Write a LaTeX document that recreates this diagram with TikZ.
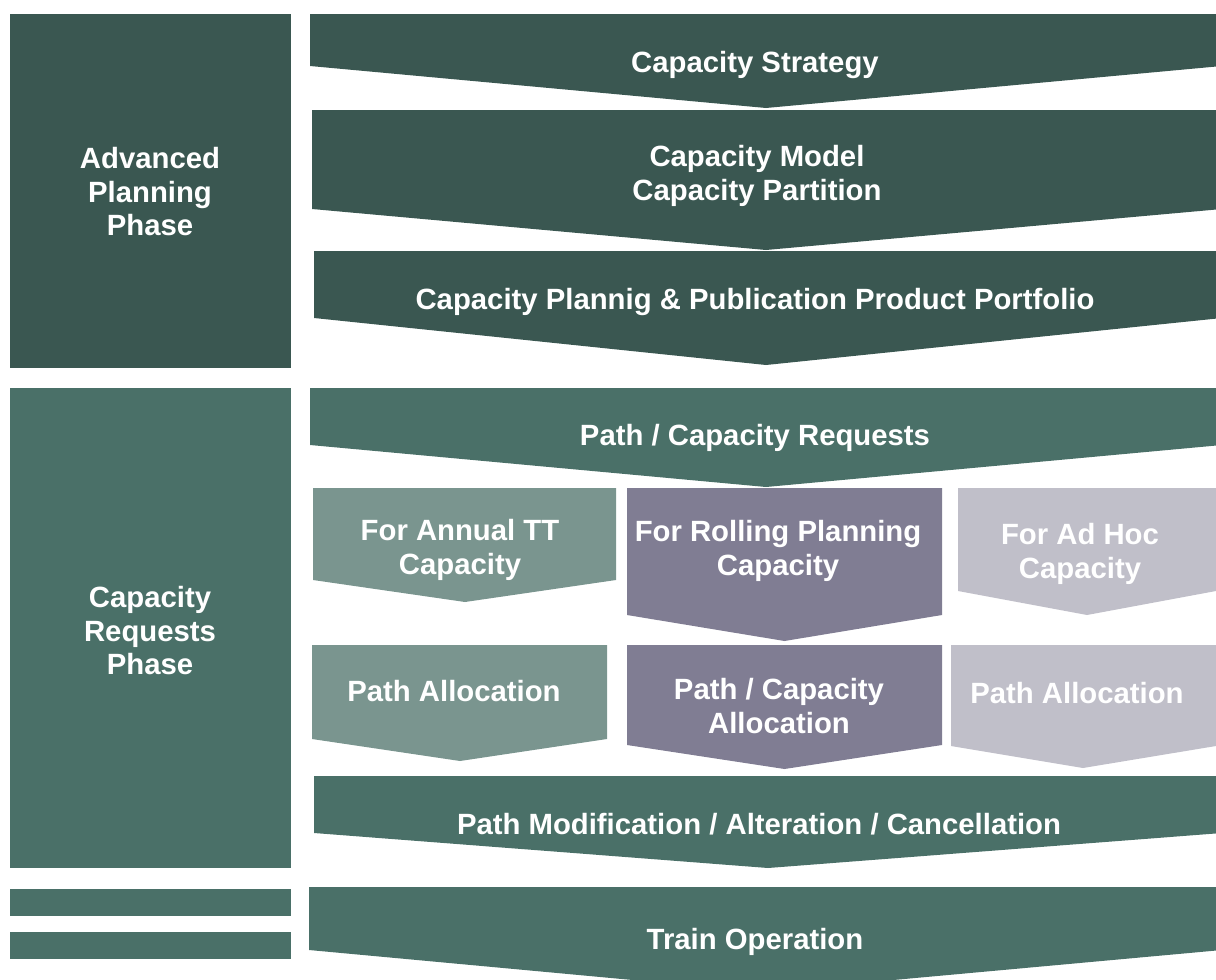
\documentclass[tikz,border=0pt]{standalone}
\usepackage{fontspec}
\setmainfont{Liberation Sans}
\definecolor{darkteal}{HTML}{3A5751}
\definecolor{midteal}{HTML}{4A7068}
\definecolor{paleteal}{HTML}{7A958F}
\definecolor{greypurple}{HTML}{807D93}
\definecolor{lightgrey}{HTML}{C0BFC9}
\tikzset{
  lbl/.style={text=white, align=center, inner sep=0pt, font=\fontsize{29.3}{33.5}\selectfont\bfseries},
}
% chevron: x1, x2, ytop, yside, ytip, xtip, colour
\newcommand\chevfill[7]{\fill[#7] (#1,#3) -- (#2,#3) -- (#2,#4) -- (#6,#5) -- (#1,#4) -- cycle;}
\begin{document}
\begin{tikzpicture}[x=1pt,y=-1pt]
\useasboundingbox (0,0) rectangle (1216,980);
\begin{scope}
\clip (0,0) rectangle (1216,980);
% left phase boxes
\fill[darkteal] (10,14) rectangle (291,368);
\fill[midteal] (10,388) rectangle (291,868);
\fill[midteal] (10,889) rectangle (291,916);
\fill[midteal] (10,932) rectangle (291,959);
% big chevrons
\chevfill{310}{1222}{14}{66}{108}{766}{darkteal}
\chevfill{312}{1222}{110}{209}{250}{766}{darkteal}
\chevfill{314}{1222}{251}{318}{365}{766}{darkteal}
\chevfill{310}{1222}{388}{445}{487}{766}{midteal}
% small chevrons row 1
\chevfill{313}{616}{488}{580}{602}{465}{paleteal}
\chevfill{627}{942}{488}{615}{641}{784.5}{greypurple}
\chevfill{958}{1216}{488}{591}{615}{1087}{lightgrey}
% small chevrons row 2
\chevfill{312}{607}{645}{739}{761}{460}{paleteal}
\chevfill{627}{942}{645}{745}{769}{784.5}{greypurple}
\chevfill{951}{1216}{645}{746}{768}{1083}{lightgrey}
% lower big chevrons
\chevfill{314}{1222}{776}{833}{868}{768}{midteal}
\chevfill{309}{1222}{887}{950}{992}{762}{midteal}
\end{scope}
% labels
\node[lbl] (adv) at (150,192) {Advanced\\Planning\\Phase};
\node[lbl] (req) at (150,631) {Capacity\\Requests\\Phase};
\node[lbl] (strat) at (755,65) {Capacity Strategy};
\node[lbl] (model) at (757,176) {Capacity Model\\Capacity Partition};
\node[lbl] (plan) at (755,302) {Capacity Plannig \& Publication Product Portfolio};
\node[lbl] (pcr) at (755,438) {Path / Capacity Requests};
\node[lbl] (annual) at (460,550) {For Annual TT\\Capacity};
\node[lbl] (rolling) at (778,551) {For Rolling Planning\\Capacity};
\node[lbl] (adhoc) at (1080,554) {For Ad Hoc\\Capacity};
\node[lbl] (pa1) at (454,691) {Path Allocation};
\node[lbl] (pca) at (779,706) {Path / Capacity\\Allocation};
\node[lbl] (pa3) at (1077,693) {Path Allocation};
\node[lbl] (mod) at (759,824) {Path Modification / Alteration / Cancellation};
\node[lbl] (train) at (755,942) {Train Operation};
\end{tikzpicture}
\end{document}
